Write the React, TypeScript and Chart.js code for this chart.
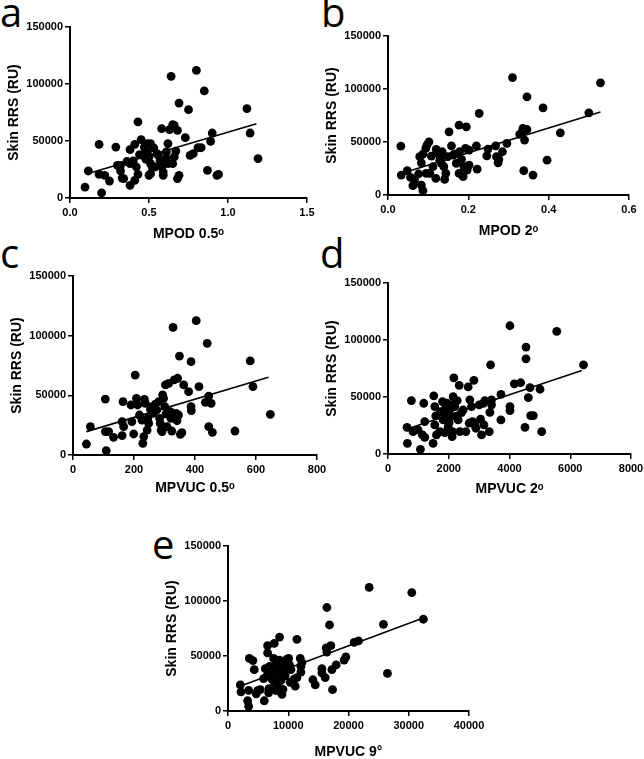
import React, { useEffect, useRef } from "react";
import { Chart, registerables } from "chart.js";
Chart.register(...registerables);

const yTickValues = [0, 50000, 100000, 150000];

// Panel a: MPOD 0.5°
const aX = [0.095, 0.116, 0.184, 0.184, 0.2, 0.22, 0.25, 0.29, 0.3, 0.32, 0.32, 0.33, 0.34, 0.38, 0.38, 0.38, 0.4, 0.41, 0.41, 0.42, 0.43, 0.43, 0.45, 0.46, 0.47, 0.49, 0.49, 0.5, 0.51, 0.51, 0.52, 0.51, 0.5, 0.54, 0.55, 0.56, 0.58, 0.58, 0.59, 0.59, 0.61, 0.61, 0.62, 0.62, 0.63, 0.64, 0.65, 0.66, 0.65, 0.66, 0.67, 0.68, 0.68, 0.69, 0.69, 0.73, 0.75, 0.76, 0.78, 0.8, 0.81, 0.83, 0.85, 0.87, 0.89, 0.9, 0.93, 0.94, 1.12, 1.14, 1.19, 0.44, 0.48, 0.53, 0.57, 0.36];
const aY = [9600, 23700, 47100, 20800, 4400, 19900, 14900, 44700, 28700, 28700, 23700, 17500, 17000, 42400, 11100, 30100, 32500, 47100, 15500, 27200, 66700, 20800, 51200, 37400, 44700, 47700, 40400, 36000, 47700, 30100, 27200, 21300, 19900, 27200, 38900, 37400, 60800, 27200, 22800, 19900, 40400, 34500, 30100, 47700, 59900, 106700, 64300, 63700, 30100, 36000, 41200, 17000, 59400, 83300, 19900, 52900, 77500, 37400, 38900, 112000, 44100, 44100, 93900, 24300, 49700, 57000, 19900, 20800, 78400, 57000, 34500, 38000, 34000, 44000, 33000, 32000];
const aFitX = [0.1, 1.18];
const aFitY = [20800, 65200];

// Panel b: MPOD 2°
const bX = [0.032, 0.033, 0.048, 0.056, 0.062, 0.066, 0.076, 0.079, 0.083, 0.087, 0.083, 0.087, 0.094, 0.097, 0.102, 0.095, 0.104, 0.108, 0.112, 0.119, 0.12, 0.124, 0.129, 0.13, 0.133, 0.135, 0.139, 0.141, 0.144, 0.149, 0.152, 0.158, 0.162, 0.166, 0.17, 0.177, 0.177, 0.178, 0.183, 0.187, 0.189, 0.193, 0.195, 0.197, 0.202, 0.202, 0.222, 0.22, 0.227, 0.246, 0.249, 0.268, 0.27, 0.274, 0.276, 0.285, 0.296, 0.31, 0.328, 0.334, 0.336, 0.338, 0.34, 0.346, 0.346, 0.361, 0.386, 0.396, 0.429, 0.5, 0.529];
const bY = [46100, 18800, 22900, 16600, 8800, 14100, 19800, 36100, 9400, 4100, 30400, 38600, 43900, 47100, 50200, 20400, 20400, 36700, 26700, 15700, 43000, 39200, 32900, 36100, 29800, 40800, 26700, 14700, 20400, 36100, 59600, 46400, 37600, 38600, 29800, 65900, 20400, 40800, 33600, 17300, 26700, 43900, 64300, 23500, 42400, 28200, 24500, 46400, 76900, 37000, 43300, 46400, 36100, 30400, 33600, 40800, 48600, 110800, 57100, 59600, 62800, 22900, 51800, 92600, 61800, 18800, 82200, 32900, 58700, 77500, 105800];
const bFitX = [0.041, 0.529];
const bFitY = [21300, 78400];

// Panel c: MPVUC 0.5°
const cX = [44, 57, 106, 106, 109, 117, 133, 161, 161, 164, 166, 190, 193, 199, 204, 208, 212, 218, 226, 229, 232, 234, 237, 243, 245, 248, 254, 259, 262, 270, 275, 281, 284, 286, 289, 292, 294, 297, 303, 301, 305, 308, 314, 319, 321, 324, 328, 332, 338, 341, 343, 346, 349, 352, 357, 363, 379, 387, 387, 388, 404, 413, 434, 440, 445, 445, 453, 457, 531, 581, 590, 647];
const cY = [9200, 23700, 46900, 19600, 3600, 19600, 14800, 27900, 16200, 44700, 23700, 41900, 27900, 17600, 67000, 47500, 41900, 33500, 29300, 9800, 15400, 46600, 43300, 20900, 30700, 26500, 38300, 40500, 34900, 42700, 37700, 44700, 30700, 26500, 20900, 19600, 50300, 47500, 58700, 40500, 34400, 23700, 60100, 36300, 30700, 20100, 106900, 62900, 34900, 28700, 64300, 33500, 82900, 17300, 18700, 58700, 53100, 78200, 40500, 37200, 112600, 57300, 44100, 93600, 49400, 23700, 43300, 19000, 20100, 78800, 57300, 34100];
const cFitX = [44, 641];
const cFitY = [19600, 65100];

// Panel d: MPVUC 2°
const dX = [627, 638, 770, 825, 1067, 990, 1133, 1177, 1210, 1210, 1485, 1507, 1540, 1540, 1573, 1595, 1705, 1727, 1793, 1815, 1837, 1870, 1903, 1925, 1947, 1980, 2013, 2035, 2057, 2090, 2123, 2145, 2112, 2167, 2200, 2233, 2277, 2310, 2343, 2365, 2420, 2475, 2563, 2640, 2673, 2695, 2750, 2783, 2827, 2860, 2893, 3003, 3047, 3080, 3135, 3157, 3190, 3333, 3355, 3377, 3410, 3410, 3718, 3718, 4015, 4015, 4015, 4158, 4367, 4510, 4543, 4543, 4620, 4675, 4697, 4785, 5005, 5060, 5556, 6436];
const dY = [23400, 9400, 46900, 19600, 4100, 21100, 16700, 44500, 28400, 14600, 9400, 51000, 41600, 25500, 33400, 16700, 19600, 37200, 46000, 29900, 35700, 18700, 41600, 33400, 44500, 24000, 27500, 38700, 32800, 43100, 19600, 50400, 15200, 66700, 41600, 32800, 46900, 29900, 60200, 19600, 36300, 38700, 19600, 58800, 27000, 47500, 41600, 28400, 64600, 25500, 22600, 43100, 30500, 16700, 44500, 25500, 46900, 19600, 36600, 78200, 47500, 43100, 52300, 29900, 112500, 41600, 38100, 61600, 62500, 23400, 83500, 93800, 49500, 58200, 33700, 33700, 56800, 19600, 107500, 78200];
const dFitX = [627, 6380];
const dFitY = [22000, 73200];

// Panel e: MPVUC 9°
const eX = [2040, 2150, 3260, 3430, 3430, 3540, 4140, 4360, 4700, 4920, 5360, 5910, 6020, 6190, 6460, 6570, 6570, 6740, 6800, 6910, 7130, 7290, 7570, 7680, 7680, 7850, 8010, 8010, 8120, 8230, 8400, 8560, 8560, 8670, 8780, 8950, 9120, 9230, 9340, 9500, 9780, 10060, 10220, 10330, 10440, 10990, 11160, 11440, 11440, 11990, 12100, 12100, 12270, 14090, 14480, 15580, 15580, 16130, 16300, 16410, 16410, 16850, 17070, 17240, 17350, 17960, 19280, 19560, 20940, 21660, 23430, 25800, 26460, 30500, 32430];
const eY = [23700, 17400, 9300, 4300, 18800, 47800, 45800, 37600, 15600, 18500, 19400, 29500, 9300, 38500, 31900, 59400, 52800, 16500, 20300, 40500, 35400, 29000, 47800, 61400, 26100, 36200, 18500, 42600, 23700, 39100, 31900, 67200, 46300, 35400, 27500, 15100, 19700, 44000, 37600, 31900, 47200, 47800, 42000, 26100, 37600, 29000, 22600, 30400, 65200, 47800, 40500, 35400, 44000, 28400, 23700, 38500, 34700, 30400, 57300, 94100, 53600, 78200, 59400, 37600, 19400, 42000, 46300, 49200, 62300, 63700, 112300, 78800, 34200, 107700, 83400];
const eFitX = [2000, 32400];
const eFitY = [22500, 84600];

const Y_AXIS_W = 68;
const PAD_TOP = 10;
const PAD_RIGHT = 22;

type Area = { L: number; T: number; R: number; B: number };

type PanelProps = {
  xs: number[];
  ys: number[];
  fitX: number[];
  fitY: number[];
  xMax: number;
  xStep: number;
  decimals: number;
  xTitle: string;
  area: Area;
  xAxisH: number;
};

const tickFont = { family: "'Liberation Sans', Arial, sans-serif", size: 11, weight: "bold" as const };
const titleFont = { family: "'Liberation Sans', Arial, sans-serif", size: 14, weight: "bold" as const };

function Panel({ xs, ys, fitX, fitY, xMax, xStep, decimals, xTitle, area, xAxisH }: PanelProps) {
  const ref = useRef<HTMLCanvasElement | null>(null);
  const w = area.R - area.L + Y_AXIS_W + PAD_RIGHT;
  const h = area.B - area.T + PAD_TOP + xAxisH;
  useEffect(() => {
    if (!ref.current) return;
    const pts = xs.map((x, i) => ({ x, y: ys[i] }));
    const fit = fitX.map((x, i) => ({ x, y: fitY[i] }));
    const chart = new Chart(ref.current, {
      type: "scatter",
      data: {
        datasets: [
          {
            data: pts,
            pointRadius: 4.4,
            pointBackgroundColor: "#000",
            pointBorderWidth: 0,
            showLine: false,
            clip: false as any,
          },
          {
            data: fit,
            showLine: true,
            pointRadius: 0,
            borderColor: "#000",
            borderWidth: 1.6,
            clip: false as any,
          },
        ],
      },
      options: {
        animation: false,
        responsive: false,
        devicePixelRatio: 1,
        layout: { padding: { top: PAD_TOP, right: PAD_RIGHT, left: 0, bottom: 0 } },
        plugins: { legend: { display: false }, tooltip: { enabled: false } },
        scales: {
          x: {
            type: "linear",
            min: 0,
            max: xMax,
            afterFit: (s: any) => {
              s.height = xAxisH;
            },
            ticks: {
              stepSize: xStep,
              color: "#000",
              font: tickFont,
              padding: 3,
              maxRotation: 0,
              callback: (v: any) => Number(v).toFixed(decimals),
            },
            grid: { display: true, drawOnChartArea: false, drawTicks: true, tickLength: 5, color: "#000", lineWidth: 1.5 },
            border: { display: true, color: "#000", width: 2 },
            title: { display: true, text: xTitle, color: "#000", font: titleFont, padding: { top: 0, bottom: 0 } },
          },
          y: {
            type: "linear",
            min: 0,
            max: 150000,
            afterFit: (s: any) => {
              s.width = Y_AXIS_W;
            },
            afterBuildTicks: (s: any) => {
              s.ticks = yTickValues.map((v) => ({ value: v }));
            },
            ticks: {
              color: "#000",
              font: tickFont,
              padding: 2,
              callback: (v: any) => String(v),
            },
            grid: { display: true, drawOnChartArea: false, drawTicks: true, tickLength: 5, color: "#000", lineWidth: 1.5 },
            border: { display: true, color: "#000", width: 2 },
            title: { display: true, text: "Skin RRS (RU)", color: "#000", font: titleFont, padding: { top: 4, bottom: 0 } },
          },
        },
      },
    });
    return () => chart.destroy();
  }, []);
  return (
    <canvas
      ref={ref}
      width={w}
      height={h}
      style={{
        position: "absolute",
        left: area.L - Y_AXIS_W,
        top: area.T - PAD_TOP,
        width: w,
        height: h,
      }}
    />
  );
}

const letterStyle = (left: number, top: number): React.CSSProperties => ({
  position: "absolute",
  left,
  top,
  fontFamily: "'Open Sans', 'DejaVu Sans', sans-serif",
  fontSize: 40,
  lineHeight: "40px",
  color: "#000",
});

export default function App() {
  return (
    <div style={{ position: "absolute", left: 0, top: 0, width: 644, height: 759, background: "#fff", overflow: "hidden" }}>
      <div style={letterStyle(0, -8)}>a</div>
      <div style={letterStyle(321, -8)}>b</div>
      <div style={letterStyle(0, 233)}>c</div>
      <div style={letterStyle(320, 233)}>d</div>
      <div style={letterStyle(152, 524)}>e</div>
      <Panel xs={aX} ys={aY} fitX={aFitX} fitY={aFitY} xMax={1.5} xStep={0.5} decimals={1} xTitle="MPOD 0.5ᵒ" area={{ L: 70, T: 27, R: 307, B: 198 }} xAxisH={45} />
      <Panel xs={bX} ys={bY} fitX={bFitX} fitY={bFitY} xMax={0.6} xStep={0.2} decimals={1} xTitle="MPOD 2ᵒ" area={{ L: 388, T: 36, R: 629, B: 195 }} xAxisH={45} />
      <Panel xs={cX} ys={cY} fitX={cFitX} fitY={cFitY} xMax={800} xStep={200} decimals={0} xTitle="MPVUC 0.5ᵒ" area={{ L: 73, T: 276, R: 317, B: 455 }} xAxisH={42} />
      <Panel xs={dX} ys={dY} fitX={dFitX} fitY={dFitY} xMax={8000} xStep={2000} decimals={0} xTitle="MPVUC 2ᵒ" area={{ L: 388, T: 283, R: 631, B: 454 }} xAxisH={44} />
      <Panel xs={eX} ys={eY} fitX={eFitX} fitY={eFitY} xMax={40000} xStep={10000} decimals={0} xTitle="MPVUC 9°" area={{ L: 228, T: 546, R: 469, B: 711 }} xAxisH={50} />
    </div>
  );
}
